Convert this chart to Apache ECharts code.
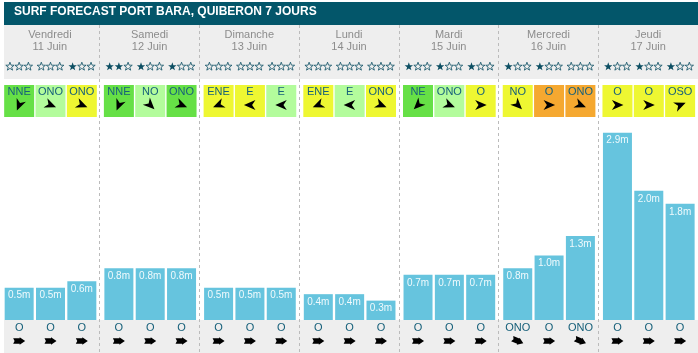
<!DOCTYPE html>
<html>
<head>
<meta charset="utf-8">
<script src="https://cdn.jsdelivr.net/npm/echarts@6/dist/echarts.min.js"></script>
<style>
html, body { margin: 0; padding: 0; background: #fff; }
#chart { width: 698px; height: 353px; }
</style>
</head>
<body>
<div id="chart"></div>
<script>
var days = ['Vendredi', 'Samedi', 'Dimanche', 'Lundi', 'Mardi', 'Mercredi', 'Jeudi'];
var dates = ['11 Juin', '12 Juin', '13 Juin', '14 Juin', '15 Juin', '16 Juin', '17 Juin'];
// 3 créneaux par jour
var waveHeight = [0.5, 0.5, 0.6, 0.8, 0.8, 0.8, 0.5, 0.5, 0.5, 0.4, 0.4, 0.3, 0.7, 0.7, 0.7, 0.8, 1.0, 1.3, 2.9, 2.0, 1.8];
var stars = [0, 0, 1, 2, 1, 1, 0, 0, 0, 0, 0, 0, 1, 1, 1, 1, 1, 0, 1, 1, 1];
var windDir = ['NNE', 'ONO', 'ONO', 'NNE', 'NO', 'ONO', 'ENE', 'E', 'E', 'ENE', 'E', 'ONO', 'NE', 'ONO', 'O', 'NO', 'O', 'ONO', 'O', 'O', 'OSO'];
var windLevel = [0, 1, 2, 0, 1, 0, 2, 2, 1, 2, 1, 2, 0, 1, 2, 2, 3, 3, 2, 2, 2];
var swellDir = ['O', 'O', 'O', 'O', 'O', 'O', 'O', 'O', 'O', 'O', 'O', 'O', 'O', 'O', 'O', 'ONO', 'O', 'ONO', 'O', 'O', 'O'];

var levelColor = ['#66E046', '#B3FC9C', '#EEF732', '#F5A830'];
var bearing = { N: 0, NNE: 22.5, NE: 45, ENE: 67.5, E: 90, ESE: 112.5, SE: 135, SSE: 157.5, S: 180,
    SSO: 202.5, SO: 225, OSO: 247.5, O: 270, ONO: 292.5, NO: 315, NNO: 337.5 };

var FONT = '"Liberation Sans", Arial, sans-serif';
var TEAL = '#17607A';
var STAR = '#0D4F63';

function rot(dir) { // fleche dans le sens du vent (vers où il va)
    var b = bearing[dir] + 180;
    return (90 - b) * Math.PI / 180;
}

var dart = [[6, 0], [-5.5, -5], [-2.2, 0], [-5.5, 5]];
var block = [[-6, -2.8], [0.5, -2.8], [0.5, -3.8], [6, 0], [0.5, 3.8], [0.5, 2.8], [-6, 2.8], [-4.6, 0]];

var starPts = [];
for (var k = 0; k < 10; k++) {
    var r = k % 2 ? 1.8 : 4.4, a = -Math.PI / 2 + k * Math.PI / 5;
    starPts.push([r * Math.cos(a), r * Math.sin(a) + 0.6]);
}

function renderSlot(params, api) {
    var i = api.value(2);
    var x = api.coord([api.value(0), 0])[0];
    var n = stars[i];
    var kids = [];
    for (var k = 0; k < 3; k++) {
        kids.push({
            type: 'polygon', x: x + (k - 1) * 9.2, y: 66, shape: { points: starPts },
            style: k < n ? { fill: STAR } : { fill: 'none', stroke: STAR, lineWidth: 0.8 }
        });
    }
    kids.push(
        { type: 'rect', shape: { x: x - 15, y: 85, width: 30, height: 32 }, style: { fill: levelColor[windLevel[i]] } },
        { type: 'text', x: x, y: 91.5, style: { text: windDir[i], fill: TEAL, font: '11px ' + FONT, align: 'center', verticalAlign: 'middle' } },
        { type: 'polygon', x: x, y: 105, rotation: rot(windDir[i]), shape: { points: dart }, style: { fill: '#000' } },
        { type: 'text', x: x, y: 327.5, style: { text: swellDir[i], fill: TEAL, font: '11px ' + FONT, align: 'center', verticalAlign: 'middle' } },
        { type: 'polygon', x: x, y: 341, rotation: rot(swellDir[i]), shape: { points: block }, style: { fill: '#000' } }
    );
    return { type: 'group', children: kids };
}

var W = 698 / 7;
var grids = [], xAxes = [], yAxes = [], series = [];

for (var d = 0; d < 7; d++) {
    grids.push({ left: d * W + 3.5, top: 125, width: 94, height: 195 });
    xAxes.push({ type: 'category', gridIndex: d, data: ['1', '2', '3'], show: false });
    yAxes.push({ type: 'value', gridIndex: d, min: 0, max: 3.02, show: false });
    var slots = [];
    for (var s = 0; s < 3; s++) slots.push([s, 0, d * 3 + s]);
    series.push({
        type: 'bar', xAxisIndex: d, yAxisIndex: d,
        data: waveHeight.slice(d * 3, d * 3 + 3),
        barWidth: 29,
        itemStyle: { color: '#66C4DE' },
        label: {
            show: true, position: 'insideTop', distance: 3,
            formatter: function (p) { return p.value.toFixed(1) + 'm'; },
            color: '#F0FAFD', fontSize: 10, fontFamily: FONT
        },
        silent: true
    });
    series.push({
        type: 'custom', xAxisIndex: d, yAxisIndex: d,
        data: slots, encode: { x: 0, y: 1 },
        renderItem: renderSlot, clip: false, silent: true
    });
}

// grille de fond : jours + séparateurs
grids.push({ left: 0, right: 0, top: 25, bottom: 0 });
xAxes.push({
    type: 'category', gridIndex: 7, position: 'top', data: days, z: 5,
    axisLine: { show: false }, axisTick: { show: false },
    axisLabel: {
        inside: true, margin: 4, interval: 0,
        formatter: function (v, i) { return v + '\n' + dates[i]; },
        color: '#8C8C8C', fontSize: 11, lineHeight: 12, fontFamily: FONT
    },
    splitLine: {
        show: true, interval: 0, showMinLine: false, showMaxLine: false,
        lineStyle: { color: '#BBBBBB', type: [3, 3], width: 1 }
    }
});
yAxes.push({ type: 'value', gridIndex: 7, show: false, splitLine: { show: false } });

var option = {
    animation: false,
    backgroundColor: '#fff',
    title: {
        text: 'SURF FORECAST PORT BARA, QUIBERON 7 JOURS',
        left: 14, top: 6, padding: 0,
        textStyle: { color: '#fff', fontSize: 12, fontWeight: 'bold', fontFamily: FONT }
    },
    graphic: [
        { type: 'rect', z: -10, shape: { x: 4, y: 2, width: 694, height: 23 }, style: { fill: '#03566A' } },
        { type: 'rect', z: -10, shape: { x: 4, y: 25, width: 694, height: 54 }, style: { fill: '#EEEEEE' } },
        { type: 'rect', z: -10, shape: { x: 4, y: 320, width: 694, height: 33 }, style: { fill: '#EEEEEE' } }
    ],
    grid: grids,
    xAxis: xAxes,
    yAxis: yAxes,
    series: series
};

var chart = echarts.init(document.getElementById('chart'), null, { renderer: 'canvas' });
chart.setOption(option);
</script>
</body>
</html>
